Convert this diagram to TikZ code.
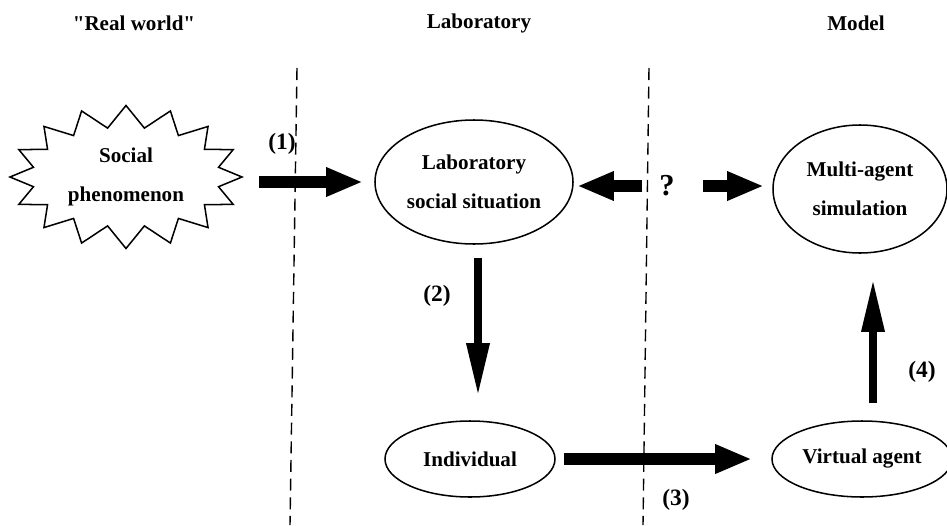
\documentclass[tikz,border=0pt]{standalone}
\usepackage{fontspec}
\setmainfont{Liberation Serif}
\usetikzlibrary{positioning,arrows.meta,shapes.symbols,shapes.geometric}

\begin{document}
\begin{tikzpicture}[x=0.03cm,y=-0.03cm,
        txt/.style={font=\fontsize{18}{33}\selectfont\bfseries,align=center},
        oval/.style={ellipse,draw,line width=1.3pt,inner sep=0pt,txt},
        tag/.style={font=\fontsize{20}{24}\selectfont\bfseries,inner sep=0pt},
        fat/.style={line width=0.36cm,-{Triangle[length=1.05cm,width=0.9cm,line width=0pt]}},
        slim/.style={line width=0.26cm,-{Triangle[length=1.5cm,width=0.72cm,line width=0pt]}},
        divider/.style={line width=1.2pt,dash pattern=on 0.36cm off 0.2cm}]
        \useasboundingbox (0,0) rectangle (947,525);
        % headings
        \node[txt] (hreal) at (134,23) {\textquotedbl Real world\textquotedbl};
        \node[txt] (hlab) at (479,23) {Laboratory};
        \node[txt] (hmodel) at (856,23) {Model};
        % the two borders
        \draw[divider] (297,68) -- (290,525);
        \draw[divider] (649,68) -- (643,525);
        % boxes
        \node[starburst,draw,line width=1.3pt,starburst points=16,starburst point height=0.65cm,random starburst=0,
              minimum width=6.96cm,minimum height=4.29cm,inner sep=0pt,txt] (social) at (126,177) {Social\\phenomenon};
        \node[oval,minimum width=5.94cm,minimum height=3.72cm] (labsit) at (474,182) {Laboratory\\social situation};
        \node[oval,minimum width=5.22cm,minimum height=3.84cm] (multi) at (860,189) {Multi-agent\\simulation};
        \node[oval,minimum width=5.1cm,minimum height=2.28cm] (indiv) at (470,459) {Individual};
        \node[oval,minimum width=5.4cm,minimum height=2.28cm] (virt) at (862,459) {Virtual agent};
        \node[tag,font=\fontsize{26}{28}\selectfont\bfseries] (q) at (667,186) {?};
        % arrows
        \draw[fat,shorten <=0.45cm,shorten >=0.39cm] (social.east |- labsit.west) -- (labsit.west);
        \draw[slim,shorten <=0.39cm,shorten >=0.81cm] ([xshift=0.12cm]labsit.south) -- ([xshift=0.12cm]labsit.south |- indiv.north);
        \draw[fat,shorten <=0.24cm,shorten >=0.63cm] (indiv.east) -- (virt.west);
        \draw[slim,shorten <=0.51cm,shorten >=0.84cm] ([xshift=0.33cm]virt.north) -- ([xshift=0.33cm]virt.north |- multi.south);
        \draw[fat,shorten <=0.5cm,shorten >=0.15cm] (q.west) -- (q.west -| labsit.east);
        \draw[fat,shorten <=0.84cm,shorten >=0.3cm] (q.east) -- (q.east -| multi.west);
        % step numbers
        \node[tag] (n1) at (282,144) {(1)};
        \node[tag] (n2) at (437,296) {(2)};
        \node[tag] (n3) at (676,500) {(3)};
        \node[tag] (n4) at (922,372) {(4)};
\end{tikzpicture}
\end{document}
